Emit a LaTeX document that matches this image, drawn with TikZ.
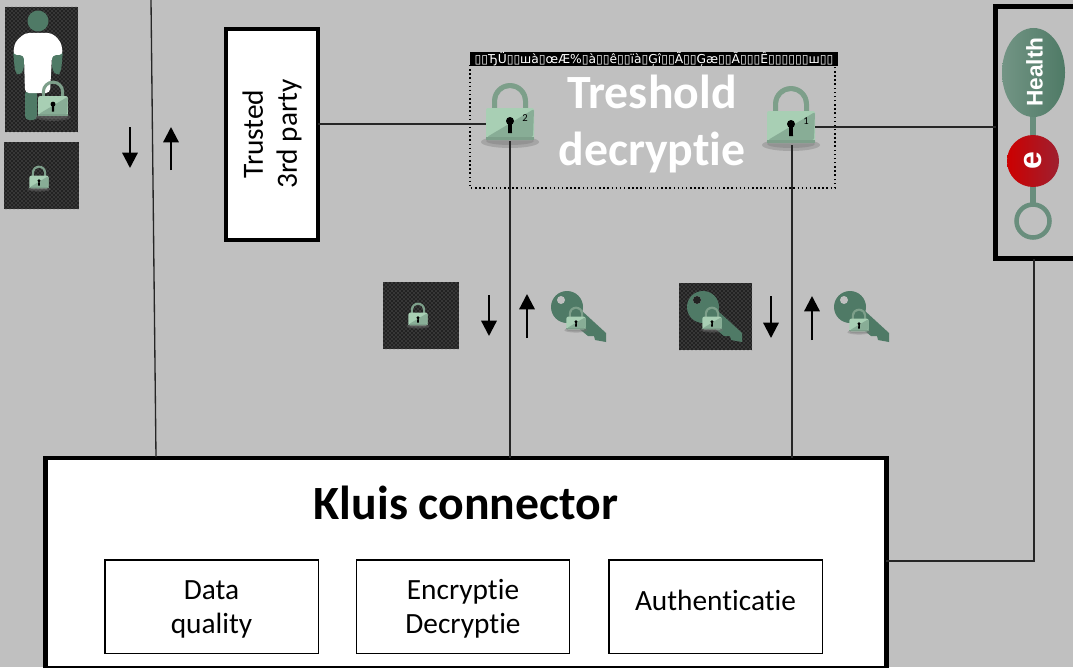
\documentclass[tikz,border=0pt]{standalone}
\usepackage{fontspec}
\setmainfont[Ligatures=NoCommon]{Carlito}
\newfontfamily\healthfont{Liberation Sans}
\newfontfamily\gibberfont{DejaVu Sans}
\usetikzlibrary{arrows.meta,patterns}
\definecolor{backgray}{HTML}{C0C0C0}
\definecolor{keygreen}{HTML}{4F7A66}
\definecolor{lockgreen}{HTML}{A8CFB4}
\definecolor{lockdark}{HTML}{88AD96}
\definecolor{lockrim}{HTML}{7D9F8A}
\definecolor{cipherdark}{HTML}{222222}
\definecolor{logored}{HTML}{CC0000}
\definecolor{logowine}{HTML}{9E2030}
\tikzset{
  wallbox/.style={draw=black,line width=3.6pt,fill=white,inner sep=0pt,outer sep=0pt},
  subbox/.style={draw=black,line width=1pt,fill=white,minimum width=160pt,minimum height=70pt},
  subtext/.style={align=center,font=\fontsize{22}{25.5}\selectfont},
  wire/.style={draw=black!85,line width=1pt},
  flow/.style={black,line width=1.7pt,-{Triangle[length=11.5pt,width=11.5pt]}},
  cipher/.style={fill=cipherdark,postaction={pattern=crosshatch dots,pattern color=black!50}},
  padlock/.pic={
    \fill[black!55,opacity=0.35] (0,18) ellipse (29 and 6);
    \fill[black!55,opacity=0.35] (0,17) ellipse (24 and 4);
    \fill[lockrim,even odd rule] (-18,-14) -- (-18,-23) arc[start angle=180,end angle=0,x radius=18,y radius=-18] -- (18,-14) -- (13,-14) -- (13,-23) arc[start angle=0,end angle=180,x radius=13,y radius=-13] -- (-13,-14) -- cycle;
    \fill[lockgreen,rounded corners=1.5pt] (-24,-16) rectangle (24,16);
    \fill[lockdark,rounded corners=1.5pt] (-23,13) -- (24,-15) -- (23,13) -- cycle;
    \fill[lockrim] (-24,13) rectangle (24,16);
    \fill[black] (0,-3) circle (4);
    \fill[black] (-1.8,-2) -- (1.8,-2) -- (2,9) -- (-2,9) -- cycle;
  },
  keyshape/.pic={
    \fill[keygreen] (0,0) circle (16);
    \fill[keygreen] (15,4) -- (39,26) -- (39,35) -- (28,33) -- (27,29) -- (21,29) -- (4,15) -- cycle;
    \fill[backgray] (-6,-7) circle (4);
  }
}
\begin{document}
\begin{tikzpicture}[x=0.75pt,y=-0.75pt]
\useasboundingbox (0,0) rectangle (1073,667);
\fill[backgray] (0,0) rectangle (1073,667);
\clip (0,0) rectangle (1073,667);

% cipher blocks
\fill[cipher] (5,7) rectangle (78,132);
\fill[cipher] (4,142) rectangle (79,209);
\fill[cipher] (383,282) rectangle (459,349);
\fill[cipher] (679,283) rectangle (752,350);

% patient
\fill[keygreen] (38,21) circle (10.5);
\fill[keygreen,rounded corners=3pt] (13,50) -- (24,50) -- (24,70) -- (19,76) -- (15,72) -- cycle;
\fill[keygreen,rounded corners=3pt] (52,50) -- (63,50) -- (61,72) -- (57,76) -- (52,70) -- cycle;
\fill[keygreen,rounded corners=3pt] (25,90) -- (37,90) -- (37,120) -- (25,120) -- cycle;
\fill[white,rounded corners=3pt] (13,55) -- (15,42) -- (25,33) -- (52,33) -- (61,42) -- (63,55) -- (52,55) -- (50,93) -- (25,93) -- (24,55) -- cycle;
\pic[scale=0.62] at (53,106) {padlock};
\pic[scale=0.4] at (39,182) {padlock};
\pic[scale=0.4] at (418,319) {padlock};

% nodes
\node[wallbox,minimum width=841*0.75pt,minimum height=210*0.75pt,anchor=north west] (kluis) at (45.5,458) {};
\node[font=\fontsize{35.8}{40}\selectfont\bfseries] (kluistitle) at (466,503) {Kluis connector};
\node[subbox] (quality) at (211.5,606.5) {};
\node[subbox] (crypt) at (463,606.5) {};
\node[subbox] (auth) at (715.5,606.5) {};
\node[subtext] (qualitytext) at (211.5,609) {Data\\quality};
\node[subtext] (crypttext) at (463,609) {Encryptie\\Decryptie};
\node[subtext] (authtext) at (715.5,600) {Authenticatie};
\node[wallbox,minimum width=92*0.75pt,minimum height=211*0.75pt,anchor=north west] (trusted) at (226,29) {};
\node[subtext,rotate=90] (trustedtext) at (272,134) {Trusted\\3rd party};
\node[wallbox,fill=none,minimum width=82*0.75pt,minimum height=252*0.75pt,anchor=north west] (ehealth) at (995.5,6.5) {};

% treshold
\draw[black,line width=1.1pt,dotted] (470,65) rectangle (835,188);
\fill[black] (470,52) rectangle (838,66);
\node[text=white,font=\fontsize{9.2}{10}\gibberfont] (gibber) at (654,59.5) {▯▯ЂÜ▯▯шà▯œÆ\%▯à▯▯ê▯▯ïà▯Ģî▯▯Ã▯▯Ģæ▯▯Ã▯▯▯Ê▯▯▯▯▯▯ш▯▯};
\node[text=white,align=center,font=\fontsize{35.8}{43}\selectfont\bfseries] (treshold) at (652,124) {Treshold\\decryptie};

% locks
\pic at (510,124) {padlock};
\pic at (791,127) {padlock};
\node[font=\fontsize{8}{9}\selectfont,inner sep=0pt] (two) at (525,118) {2};
\node[font=\fontsize{8}{9}\selectfont,inner sep=0pt] (one) at (806,121) {1};
\coordinate (twoleft) at (486,124);
\coordinate (twodown) at (510,141);
\coordinate (oneright) at (815,127);
\coordinate (onedown) at (792,145);

% connectors
\coordinate (patienttop) at (151,0);
\coordinate (patientend) at (156,457);
\coordinate (kluisout) at (886,561);
\coordinate (healthin) at (1034,259);
\draw[wire] (patienttop) -- (patientend);
\draw[wire] (trusted.east |- twoleft) -- (twoleft);
\draw[wire] (twodown) -- (twodown |- kluis.north);
\draw[wire] (onedown) -- (onedown |- kluis.north);
\draw[wire] (oneright) -- (ehealth.west |- oneright);
\draw[wire] (kluisout) -| (healthin);

% keys
\pic at (567,307) {keyshape};
\pic at (703,307) {keyshape};
\pic at (850,307) {keyshape};
\fill[cipherdark] (697,300) circle (4);
\pic[scale=0.4] at (576,323) {padlock};
\pic[scale=0.4] at (712,323) {padlock};
\pic[scale=0.4] at (859,325) {padlock};

% up and down
\foreach \n/\x/\ya/\yb in {a/130/127/168,b/171/170/127,c/489/295/336,d/527/338/294,e/771/296/338,f/812/340/296}{
  \coordinate (from\n) at (\x,\ya);
  \coordinate (to\n) at (\x,\yb);
  \draw[flow] (from\n) -- (to\n);
}

% ehealth logo
\draw[keygreen!85,line width=3.8pt] (1033,110) -- (1033,205);
\shade[left color=keygreen!80!white,right color=keygreen] (1033.5,72.5) ellipse (31.5 and 44.5);
\shade[left color=logored,right color=logowine] (1033,161) circle (26);
\draw[keygreen!85,line width=3.4pt] (1033,221) circle (16.5);
\node[rotate=90,text=white,font=\fontsize{17}{20}\healthfont\bfseries] (healthword) at (1034.5,72) {Health};
\node[rotate=90,text=white,font=\fontsize{24}{26}\healthfont\bfseries] (eword) at (1033,161) {e};
\end{tikzpicture}
\end{document}
